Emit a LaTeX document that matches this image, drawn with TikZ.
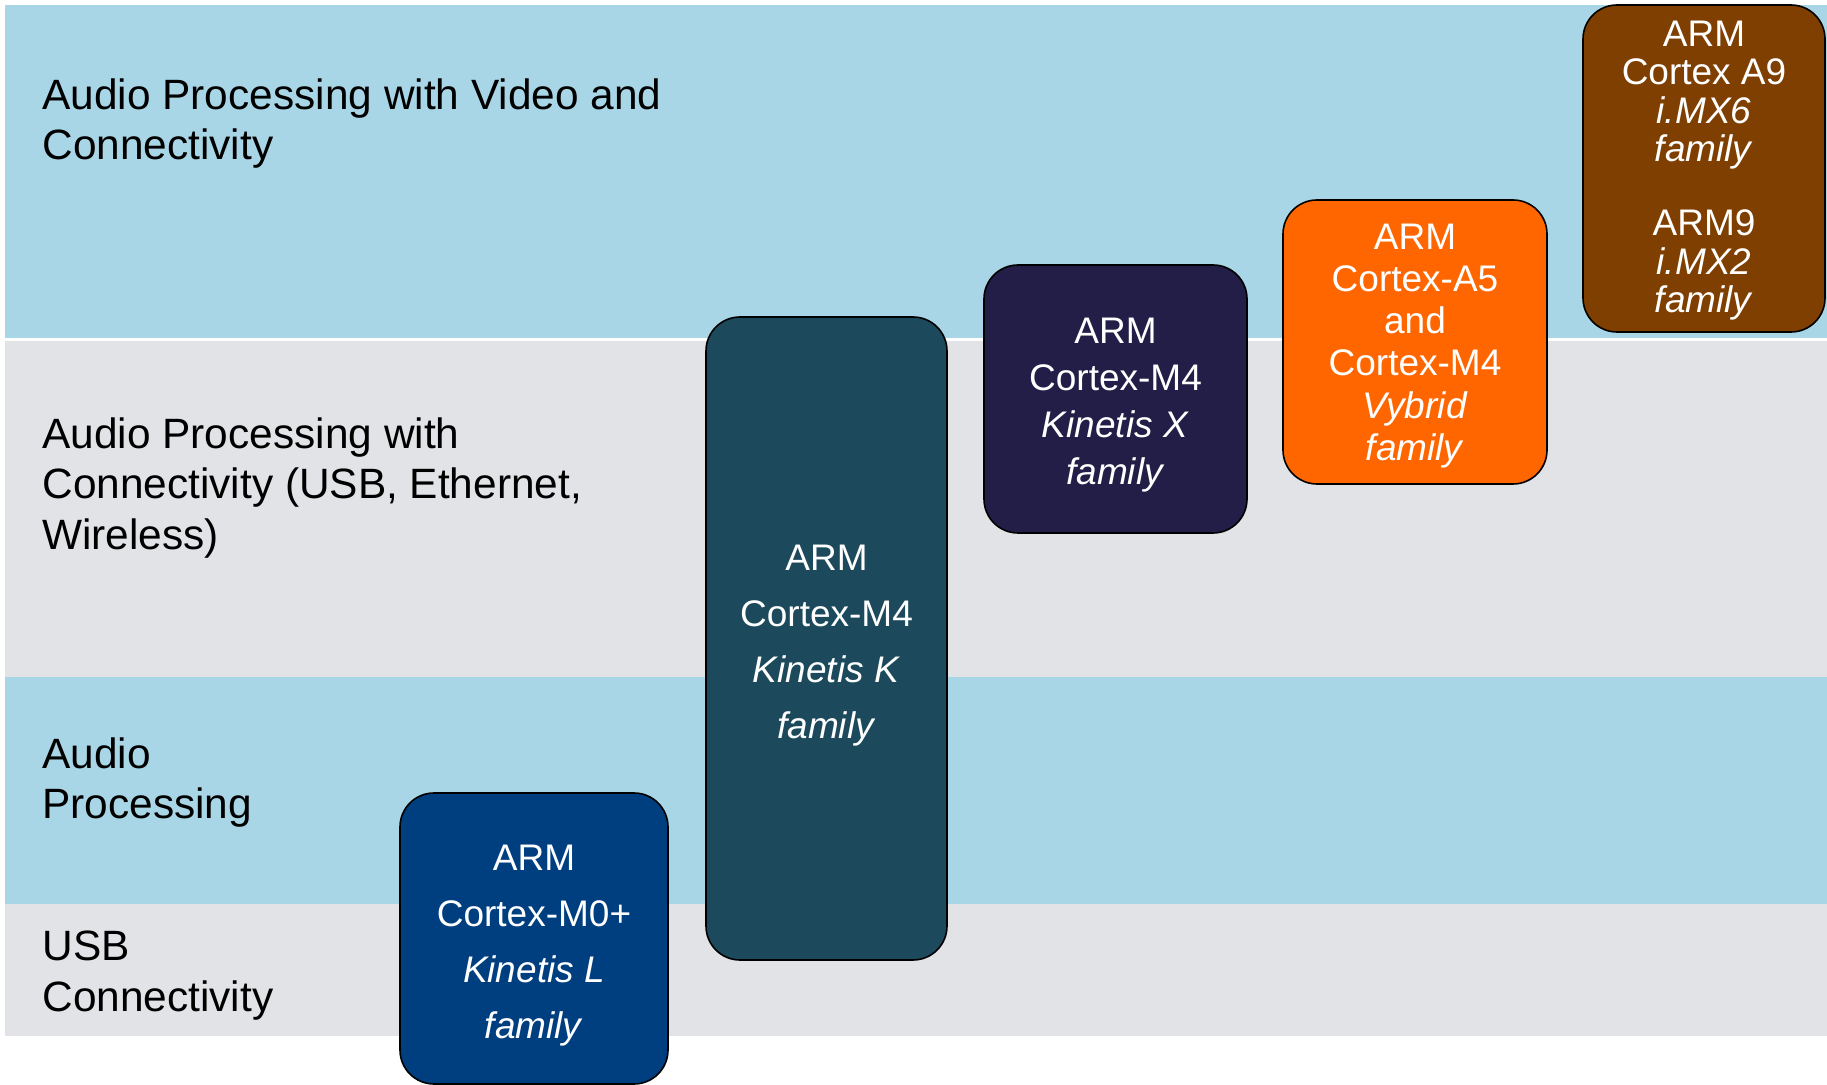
\documentclass[tikz,border=0pt]{standalone}
\usepackage{fontspec}
\setmainfont{Liberation Sans}
\definecolor{bandblue}{HTML}{A9D6E6}
\definecolor{bandgray}{HTML}{E1E3E6}
\definecolor{cL}{HTML}{003F7F}
\definecolor{cK}{HTML}{1C4A5C}
\definecolor{cX}{HTML}{221E47}
\definecolor{cV}{HTML}{FF6600}
\definecolor{cI}{HTML}{7F3F00}
\tikzset{
  band/.style={draw=none},
  lab/.style={anchor=base west, inner sep=0pt, text=black, font=\fontsize{21.2}{25}\selectfont},
  chip/.style={draw=black, line width=0.8pt, rounded corners=17pt, inner sep=0pt},
  chiptext/.style={text=white, align=center, inner sep=0pt},
}
\begin{document}
\begin{tikzpicture}[x=0.5pt,y=-0.5pt]
\useasboundingbox (0,0) rectangle (1827,1085);
\fill[white] (0,0) rectangle (1827,1085);
\fill[band, bandblue] (5,5) rectangle (1827,338);
\fill[band, bandgray] (5,341) rectangle (1827,677);
\fill[band, bandblue] (5,677) rectangle (1827,904);
\fill[band, bandgray] (5,904) rectangle (1827,1036);

\node[lab] (l1a) at (42,110) {Audio Processing with Video and};
\node[lab] (l1b) at (42,160) {Connectivity};
\node[lab] (l2a) at (42,449) {Audio Processing with};
\node[lab] (l2b) at (42,499) {Connectivity (USB, Ethernet,};
\node[lab] (l2c) at (42,550) {Wireless)};
\node[lab] (l3a) at (42,768) {Audio};
\node[lab] (l3b) at (42,818) {Processing};
\node[lab] (l4a) at (42,960) {USB};
\node[lab] (l4b) at (42,1011) {Connectivity};

\node[chip, fill=cL, minimum width=134pt, minimum height=145.5pt] (kl) at (534,938.5) {};
\node[chiptext, font=\fontsize{18.5}{28}\selectfont, yshift=-3.5pt] (klt) at (kl.center)
  {ARM\\Cortex-M0+\\\textit{Kinetis L}\\\textit{family}};

\node[chip, fill=cK, minimum width=120.5pt, minimum height=321.5pt] (kk) at (826.5,638.5) {};
\node[chiptext, font=\fontsize{18.5}{28}\selectfont, yshift=-3.5pt] (kkt) at (kk.center)
  {ARM\\Cortex-M4\\\textit{Kinetis K}\\\textit{family}};

\node[chip, fill=cX, minimum width=131.5pt, minimum height=134pt] (kx) at (1115.5,399) {};
\node[chiptext, font=\fontsize{18.5}{23.5}\selectfont, yshift=-3pt] (kxt) at (kx.center)
  {ARM\\Cortex-M4\\\textit{Kinetis X}\\\textit{family}};

\node[chip, fill=cV, minimum width=132pt, minimum height=142pt] (vy) at (1415,342) {};
\node[chiptext, font=\fontsize{18.5}{21.1}\selectfont, yshift=-2pt] (vyt) at (vy.center)
  {ARM\\Cortex-A5\\and\\Cortex-M4\\\textit{Vybrid}\\\textit{family}};

\node[chip, fill=cI, minimum width=121pt, minimum height=163.5pt] (imx) at (1704,168.5) {};
\node[chiptext, font=\fontsize{18.5}{19.3}\selectfont, yshift=-1pt] (imxt) at (imx.center)
  {ARM\\Cortex A9\\\textit{i.MX6}\\\textit{family}\\[17.5pt]ARM9\\\textit{i.MX2}\\\textit{family}};
\end{tikzpicture}
\end{document}
